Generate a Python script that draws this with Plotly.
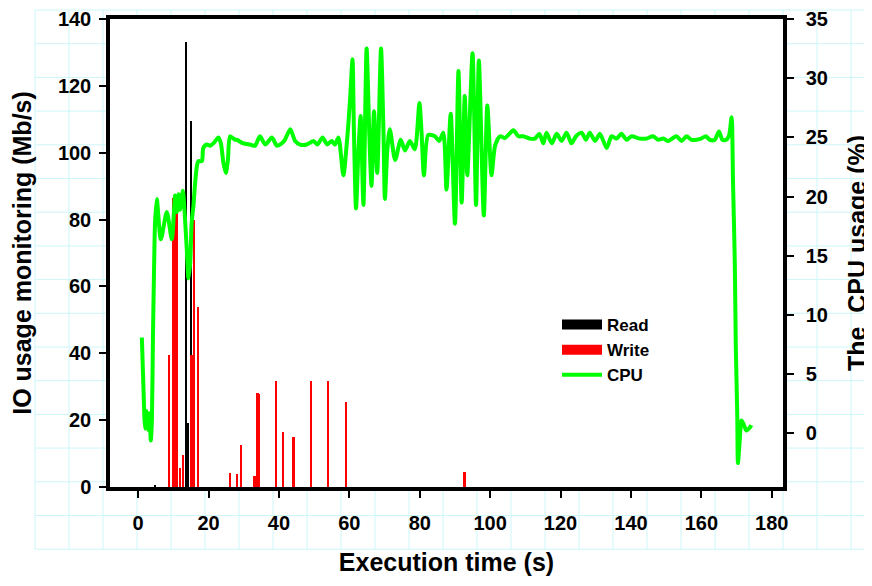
import plotly.graph_objects as go

# ---------------- data ----------------
read_t = [4.8, 13.8, 14.2, 14.97]
read_v = [0.7, 133.0, 19.0, 109.5]

write_t = [8.9, 9.9, 10.5, 11.2, 11.9, 12.9, 15.2, 15.9, 17.0,
           26.1, 28.2, 29.2, 33.1, 34.0, 34.3, 39.2, 41.2, 44.2,
           49.1, 54.1, 59.2, 92.8]
write_v = [39.5, 86.5, 86.0, 83.0, 5.6, 9.5, 39.5, 80.0, 53.7,
           4.1, 3.9, 12.7, 3.3, 28.0, 27.8, 31.7, 16.4, 15.1,
           31.7, 31.7, 25.3, 4.4]

cpu_t = [1.05, 1.2, 1.5, 1.8, 2.0, 2.3, 2.6, 2.9, 3.2, 3.6, 3.9, 4.2, 4.5, 4.8,
         5.3, 6.44, 8.14, 9.56, 10.5, 10.98, 11.45, 11.9, 12.7, 13.15, 13.8,
         14.3, 14.8, 15.2, 15.7, 16.2, 16.7, 17.1, 18.1, 18.5, 19.5, 20.4,
         21.4, 22.8, 23.5, 24.2, 24.9, 25.5, 26.1, 27.5,
         28.0, 29.9, 31.8, 33.2, 34.6, 36.1, 38.0, 39.4, 40.8, 41.7, 43.2,
         44.6, 46.0, 47.9, 49.8, 50.9, 52.4, 53.7, 55.0, 55.9, 56.9, 58.3,
         59.3, 60.2, 60.9, 61.3, 61.9, 62.6, 63.2, 64.0, 64.9, 65.7, 66.3,
         67.0, 67.9, 69.0, 69.7, 70.1, 70.8, 71.5, 73.0, 74.6, 75.8, 77.2,
         78.6, 79.9, 80.5, 81.2, 82.4, 84.3, 85.5, 86.7, 87.6, 88.8, 90.0,
         91.0, 91.9, 92.8, 93.5, 95.0, 96.0, 96.8, 98.2, 99.2, 100.4, 101.4,
         102.8, 104.2, 106.6, 108.0, 109.4, 111.3, 112.7, 114.0, 115.1,
         116.0, 117.5, 118.9, 120.3, 121.7, 123.1, 124.4, 126.0, 127.2,
         128.3, 129.8, 131.2, 133.1, 134.5, 135.9, 137.3, 138.8, 140.2,
         142.5, 144.4, 146.3, 147.7, 149.2, 150.6, 152.9, 154.4, 155.8,
         157.2, 158.6, 159.9, 161.3, 162.4, 163.8, 165.0, 166.0, 167.1,
         167.9, 168.6, 169.0, 169.5, 169.8, 170.2, 170.4, 170.9, 171.4,
         172.0, 172.8, 173.8, 174.2]
cpu_v = [8.1, 6.7, 3.9, 1.2, 0.4, 1.9, 1.0, 0.3, 1.7, -0.6, 1.1, 8.1, 13.6, 17.8,
         19.8, 16.4, 18.7, 16.4, 20.1, 18.7, 20.2, 18.9, 20.5, 18.9, 15.6,
         13.1, 14.5, 17.8, 19.2, 21.2, 22.6, 23.0, 23.0, 24.1, 24.4, 24.3,
         24.5, 25.0, 24.5, 22.9, 22.0, 23.1, 25.1, 24.8,
         24.8, 24.5, 24.4, 24.3, 25.1, 24.4, 25.0, 24.3, 24.5, 24.8, 25.7,
         24.7, 24.4, 24.4, 24.7, 24.4, 25.0, 24.4, 24.7, 24.4, 25.0, 21.8,
         24.6, 28.2, 31.6, 25.5, 19.0, 24.0, 26.8, 19.3, 32.5, 25.0, 20.9,
         27.2, 22.0, 32.5, 25.4, 19.8, 24.0, 25.7, 23.1, 24.8, 23.9, 24.7,
         24.0, 27.9, 25.5, 21.8, 25.2, 25.1, 24.7, 25.4, 20.6, 27.0, 17.7,
         30.6, 19.5, 28.5, 21.8, 32.1, 19.3, 31.5, 18.4, 27.7, 21.8, 24.3,
         25.1, 24.95, 25.6, 25.1, 25.1, 24.9, 24.9, 25.3, 24.5,
         25.4, 24.5, 25.3, 24.7, 25.4, 24.5, 25.1, 25.4, 24.8,
         25.4, 24.7, 25.3, 24.1, 25.1, 24.9, 25.3, 24.8, 25.1,
         24.9, 24.9, 25.1, 24.8, 24.9, 24.7, 25.1, 24.7, 25.1,
         24.8, 24.8, 24.9, 25.1, 24.8, 24.8, 25.5, 24.8, 24.8,
         25.2, 26.7, 21.2, 14.5, 7.2, 1.7, -2.5, -0.6, 1.1,
         0.8, 0.25, 0.5, 0.7]

x_ticks = [0, 20, 40, 60, 80, 100, 120, 140, 160, 180]
y_ticks = [0, 20, 40, 60, 80, 100, 120, 140]
y2_ticks = [0, 5, 10, 15, 20, 25, 30, 35]

# ---------------- figure ----------------
FONT = "Arial, 'Liberation Sans', sans-serif"
OFF = 8                      # page body margin of the html page
W, H = 872 - OFF, 586 - OFF
L, R, T, B = 110 - OFF, 89, 11, 99
pw, ph = W - L - R, H - T - B

fig = go.Figure()

fig.add_trace(go.Bar(x=read_t, y=read_v, width=0.42, marker=dict(color="black", line=dict(width=0)),
                     name="Read", legendgroup="read", showlegend=False))
fig.add_trace(go.Bar(x=write_t, y=write_v, width=0.5, marker=dict(color="#ff0000", line=dict(width=0)),
                     name="Write", legendgroup="write", showlegend=False))
fig.add_trace(go.Scatter(x=cpu_t, y=cpu_v, yaxis="y2", mode="lines",
                         line=dict(color="#00ff00", width=4, shape="spline", smoothing=0.7),
                         name="CPU", showlegend=False, legendgroup="cpu"))

# legend glyphs
fig.add_trace(go.Scatter(x=[None], y=[None], mode="lines", line=dict(color="black", width=15),
                         name="Read", legendgroup="read"))
fig.add_trace(go.Scatter(x=[None], y=[None], mode="lines", line=dict(color="#ff0000", width=15),
                         name="Write", legendgroup="write"))
fig.add_trace(go.Scatter(x=[None], y=[None], yaxis="y2", mode="lines", line=dict(color="#00ff00", width=4),
                         name="CPU", legendgroup="cpu"))

# background graph-paper grid (decoration), positions in page pixels
PL, PB = 110, 487
def px2x(px):
    return (px - PL) / pw
def py2y(py):
    return (PB - py) / ph
shapes = []
gx0, gy0, gstepx, gstepy, gx1, gy1 = 35, 10, 34.0, 33.7, 872, 549
k = 0
while gx0 + k * gstepx <= gx1:
    xx = px2x(gx0 + k * gstepx)
    shapes.append(dict(type="line", xref="paper", yref="paper", x0=xx, x1=xx,
                       y0=py2y(gy0), y1=py2y(gy1), line=dict(color="#cdf6f8", width=1), layer="below"))
    k += 1
k = 0
while gy0 + k * gstepy <= gy1 + 1:
    yy = py2y(gy0 + k * gstepy)
    shapes.append(dict(type="line", xref="paper", yref="paper", x0=px2x(gx0), x1=px2x(gx1),
                       y0=yy, y1=yy, line=dict(color="#cdf6f8", width=1), layer="below"))
    k += 1
shapes.append(dict(type="rect", xref="paper", yref="paper", x0=0, x1=1, y0=0, y1=1,
                   fillcolor="white", line=dict(width=0), layer="below"))

tickfont = dict(family=FONT, size=20, color="black", weight="bold")
titlefont = dict(family=FONT, size=25, color="black", weight="bold")

fig.update_layout(
    width=W, height=H, autosize=False,
    margin=dict(l=L, r=R, t=T, b=B, pad=0),
    paper_bgcolor="white", plot_bgcolor="white",
    barmode="overlay", bargap=0,
    shapes=shapes,
    font=dict(family=FONT, color="black"),
    xaxis=dict(range=[-8, 183.2], tickvals=x_ticks, ticks="outside", ticklen=7, tickwidth=2,
               tickcolor="black", showline=True, linewidth=3.5, linecolor="black", mirror=True,
               showgrid=False, zeroline=False, tickfont=tickfont, ticklabelstandoff=8,
               title=dict(text="Execution time (s)", font=titlefont, standoff=22), automargin=False),
    yaxis=dict(range=[0, 140], tickvals=y_ticks, ticks="outside", ticklen=7, tickwidth=2,
               tickcolor="black", showline=True, linewidth=3.5, linecolor="black", mirror=True,
               showgrid=False, zeroline=False, tickfont=tickfont, ticklabelstandoff=4,
               ticklabeloverflow="allow",
               title=dict(text="IO usage monitoring (Mb/s)", font=titlefont, standoff=24), automargin=False),
    yaxis2=dict(range=[-4.52, 35], tickvals=y2_ticks, ticks="outside", ticklen=7, tickwidth=2,
                tickcolor="black", showline=True, linewidth=3.5, linecolor="black",
                overlaying="y", side="right", showgrid=False, zeroline=False, tickfont=tickfont,
                ticklabelstandoff=8, ticklabeloverflow="allow",
                title=dict(text="The\u00a0 CPU usage (%)", font=titlefont, standoff=22), automargin=False),
    legend=dict(x=px2x(557), y=py2y(307), xanchor="left", yanchor="top", bgcolor="rgba(0,0,0,0)",
                font=dict(family=FONT, size=17, color="black", weight="bold"),
                tracegroupgap=0, itemwidth=40),
)

fig.write_html("out.html")
